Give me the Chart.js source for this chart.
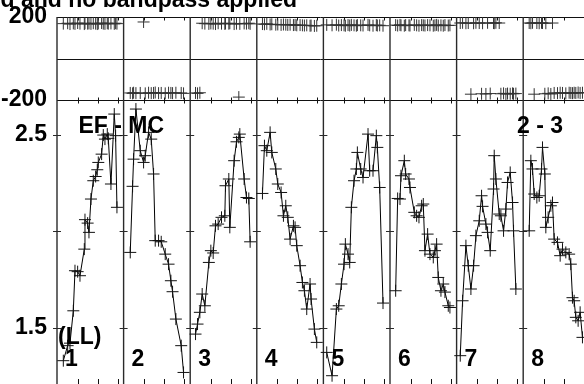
<!DOCTYPE html>
<html>
<head>
<meta charset="utf-8">
<script src="https://cdn.jsdelivr.net/npm/chart.js@4/dist/chart.umd.min.js"></script>
<style>
html,body{margin:0;padding:0;background:#fff;overflow:hidden}
#wrap{width:584px;height:384px;position:relative}
canvas{display:block}
</style>
</head>
<body>
<div id="wrap"><canvas id="c" width="584" height="384"></canvas></div>
<script>
// ---- Data (time as fraction of each IF panel, amplitude, phase in degrees) ----
const channelLabels = ['1','2','3','4','5','6','7','8'];
const titleText = 'Calibrated and no bandpass applied';
const baselineLabel = 'EF - MC';
const stokesLabel = '(LL)';
const sourceLabel = '2 - 3';

const phaseTicks = [-200, 0, 200];
const ampTicks = [1.5, 2.0, 2.5];
const timeTickFractions = [0.31, 0.61, 0.91];

const t1 = [0.095,0.16,0.195,0.245,0.27,0.31,0.345,0.41,0.42,0.46,0.48,0.51,0.545,0.58,0.605,0.62,0.67,0.695,0.72,0.755,0.77,0.81,0.86,0.88,0.9];
const amp1 = [1.329,1.407,1.420,1.588,1.796,1.791,1.770,1.908,2.061,2.043,1.995,2.168,2.263,2.285,2.320,2.358,2.401,2.500,2.479,2.505,2.483,2.246,2.609,2.497,2.125];
const ph1 = [168,170,166,169,167,171,168,166,170,168,169,167,170,168,166,169,171,168,167,170,168,169,167,170,168];

const t2 = [0.10,0.135,0.15,0.185,0.25,0.30,0.325,0.375,0.415,0.45,0.475,0.525,0.565,0.625,0.675,0.71,0.735,0.785,0.865,0.9];
const amp2 = [1.891,2.234,2.375,2.635,2.419,2.358,2.393,2.514,2.479,2.298,1.952,1.952,1.946,1.882,1.830,1.744,1.687,1.545,1.407,1.268];
const ph2 = [-166,-168,-165,-167,-166,176,-168,-165,-167,-166,-164,-167,-166,-168,-165,-166,-167,-165,-166,-168];

const t3 = [0.08,0.11,0.145,0.18,0.22,0.28,0.31,0.345,0.38,0.42,0.47,0.52,0.53,0.58,0.595,0.66,0.695,0.73,0.745,0.81,0.845,0.88,0.9];
const amp3 = [1.467,1.519,1.580,1.675,1.614,1.839,1.900,1.888,2.029,2.038,2.073,2.081,2.237,2.272,2.021,2.367,2.465,2.488,2.505,2.272,2.176,2.171,1.946];
const ph3 = [-166,-168,-165,170,168,167,169,168,166,170,168,167,169,168,170,166,168,-186,167,169,168,170,167];

const t4 = [0.085,0.115,0.15,0.2,0.225,0.285,0.315,0.365,0.4,0.435,0.465,0.5,0.55,0.575,0.6,0.65,0.685,0.715,0.75,0.8,0.815,0.865,0.9];
const amp4 = [2.197,2.445,2.419,2.514,2.410,2.324,2.246,2.202,2.081,2.133,2.073,1.960,2.029,2.021,1.926,1.822,1.735,1.692,1.597,1.727,1.649,1.493,1.424];
const ph4 = [166,165,167,164,165,163,164,162,164,163,162,163,161,162,160,161,160,159,160,158,159,157,158];

const t5 = [0.05,0.13,0.195,0.23,0.27,0.31,0.33,0.37,0.395,0.42,0.46,0.495,0.51,0.56,0.595,0.67,0.695,0.745,0.795,0.81,0.845,0.895];
const amp5 = [1.372,1.251,1.597,1.614,1.727,1.830,1.934,1.882,1.839,2.125,2.263,2.324,2.410,2.324,2.280,2.505,2.315,2.315,2.497,2.436,2.228,1.628];
const ph5 = [162,160,163,159,161,160,158,161,159,162,160,158,161,160,159,162,160,158,161,159,160,158];

const t6 = [0.085,0.115,0.15,0.165,0.215,0.235,0.285,0.30,0.365,0.40,0.435,0.475,0.5,0.525,0.565,0.6,0.65,0.675,0.70,0.725,0.765,0.8,0.825,0.875,0.9];
const amp6 = [1.692,2.171,2.168,2.289,2.367,2.298,2.272,2.228,2.099,2.081,2.073,2.133,2.142,1.900,1.986,1.882,1.865,1.900,1.934,1.761,1.692,1.727,1.685,1.614,1.605];
const ph6 = [161,159,162,160,158,161,160,159,162,160,158,161,160,159,161,160,158,160,162,159,160,158,161,159,160];

const t7 = [0.055,0.09,0.14,0.175,0.215,0.255,0.29,0.34,0.375,0.39,0.44,0.465,0.505,0.555,0.565,0.59,0.64,0.665,0.705,0.74,0.765,0.805,0.84,0.855,0.89];
const amp7 = [1.355,1.640,1.926,1.822,1.701,1.822,1.978,2.055,2.185,2.130,2.038,1.995,1.900,2.220,2.393,2.272,2.090,2.081,2.003,2.116,2.254,2.306,2.150,2.003,1.701];
const ph7 = [171,172,170,171,-172,170,172,171,-170,170,-171,172,-169,171,170,172,171,-170,-168,-171,-169,-170,-168,-170,-169];

const t8 = [0.09,0.115,0.14,0.165,0.205,0.24,0.275,0.29,0.325,0.34,0.375,0.415,0.44,0.465,0.515,0.555,0.59,0.64,0.69,0.715,0.74,0.765,0.79,0.825,0.855,0.89];
const amp8 = [2.003,2.367,2.324,2.194,2.176,2.185,2.324,2.436,2.298,2.021,2.073,2.133,2.150,1.960,1.943,1.874,1.908,1.891,1.882,1.830,1.656,1.640,1.554,1.536,1.580,1.450];
const ph8 = [171,170,172,-172,171,170,172,171,-170,170,-168,-171,171,-166,-167,-165,-166,-168,-165,-166,-167,-165,-166,-164,-166,-165];

const times = [t1,t2,t3,t4,t5,t6,t7,t8];
const amps = [amp1,amp2,amp3,amp4,amp5,amp6,amp7,amp8];
const phases = [ph1,ph2,ph3,ph4,ph5,ph6,ph7,ph8];

// ---- Chart ----
const FONT = '"Liberation Sans", Arial, Helvetica, sans-serif';
const INK = '#111';
const xMax = 7.913;

const datasets = [];
times.forEach((ts, i) => {
  datasets.push({
    label: 'Amp IF ' + channelLabels[i],
    yAxisID: 'yAmp',
    data: ts.map((t, k) => ({x: i + t, y: amps[i][k]})),
    showLine: true,
    borderColor: '#000',
    borderWidth: 1,
    tension: 0,
    pointStyle: 'cross',
    pointRadius: 6,
    pointBorderWidth: 1,
    pointBorderColor: INK,
    pointBackgroundColor: 'transparent'
  });
  datasets.push({
    label: 'Phase IF ' + channelLabels[i],
    yAxisID: 'yPhase',
    data: ts.map((t, k) => ({x: i + t, y: phases[i][k]})),
    showLine: false,
    pointStyle: 'cross',
    pointRadius: 6,
    pointBorderWidth: 1,
    pointBorderColor: '#333',
    pointBackgroundColor: 'transparent'
  });
});

function fitAxis(s) { s.width = 57; s.paddingTop = 0; s.paddingBottom = 0; }

const framePlugin = {
  id: 'frame',
  beforeDatasetsDraw(chart) {
    const {ctx, chartArea: a, scales} = chart;
    const x = scales.x, yp = scales.yPhase, ya = scales.yAmp;
    const seg = (x1, y1, x2, y2) => { ctx.beginPath(); ctx.moveTo(x1, y1); ctx.lineTo(x2, y2); ctx.stroke(); };
    ctx.save();
    ctx.strokeStyle = INK; ctx.lineWidth = 1;
    phaseTicks.forEach(v => { const y = Math.round(yp.getPixelForValue(v)) + 0.5; seg(a.left, y, a.right, y); });
    const yTop = Math.round(yp.getPixelForValue(phaseTicks[2])) + 0.5;
    const yMid = Math.round(yp.getPixelForValue(phaseTicks[0])) + 0.5;
    for (let i = 0; i < channelLabels.length; i++) {
      timeTickFractions.forEach(f => {
        const px = Math.round(x.getPixelForValue(i + f)) + 0.5;
        seg(px, a.bottom, px, a.bottom - 5);
        seg(px, yMid - 3, px, yMid + 3);
        seg(px, yTop, px, yTop + 3);
      });
    }
    ctx.strokeStyle = '#2a2a2a';
    for (let i = 0; i <= channelLabels.length; i++) {
      const px = x.getPixelForValue(i);
      ctx.lineWidth = 1.4;
      seg(px, a.top, px, a.bottom);
      ctx.lineWidth = 1;
      ampTicks.forEach(v => { const y = Math.round(ya.getPixelForValue(v)) + 0.5; seg(px - 4, y, px + 4, y); });
    }
    ctx.restore();
  },
  afterDraw(chart) {
    const {ctx, scales} = chart;
    const x = scales.x;
    ctx.save();
    ctx.fillStyle = '#000';
    ctx.textBaseline = 'alphabetic';
    ctx.font = '700 23px ' + FONT;
    ctx.textAlign = 'right';
    ctx.fillText(titleText, 297, 7);
    ctx.textAlign = 'left';
    ctx.fillText(baselineLabel, 78.5, 132.5);
    ctx.fillText(sourceLabel, 517, 132.5);
    ctx.fillText(stokesLabel, 58, 344);
    channelLabels.forEach((lab, i) => {
      ctx.fillText(lab, x.getPixelForValue(i) + 8, 365.5);
    });
    ctx.restore();
  }
};

new Chart(document.getElementById('c'), {
  type: 'line',
  data: { datasets },
  options: {
    responsive: false,
    devicePixelRatio: 1,
    animation: false,
    layout: { autoPadding: false, padding: { top: 17, left: 0, right: 0, bottom: 0 } },
    plugins: { legend: { display: false }, tooltip: { enabled: false }, title: { display: false } },
    scales: {
      x: { type: 'linear', min: 0, max: xMax, display: false },
      yAmp: {
        type: 'linear', position: 'left', stack: 'panels', stackWeight: 284, weight: 0,
        min: 1.208, max: 2.682,
        grid: { display: false }, border: { display: false },
        afterBuildTicks: s => { s.ticks = ampTicks.map(v => ({ value: v })); },
        afterFit: fitAxis,
        ticks: {
          autoSkip: false, padding: 2, color: '#000',
          font: { family: FONT, size: 23, weight: 'bold' },
          callback: v => (v === 2 ? '' : Number(v).toFixed(1))
        }
      },
      yPhase: {
        type: 'linear', position: 'left', stack: 'panels', stackWeight: 83, weight: 1,
        min: -200, max: 200,
        grid: { display: false }, border: { display: false },
        afterBuildTicks: s => { s.ticks = phaseTicks.map(v => ({ value: v })); },
        afterFit: fitAxis,
        ticks: {
          autoSkip: false, padding: 2, color: '#000',
          font: { family: FONT, size: 23, weight: 'bold' },
          callback: v => (v === 0 ? '' : String(v))
        }
      }
    }
  },
  plugins: [framePlugin]
});
</script>
</body>
</html>
